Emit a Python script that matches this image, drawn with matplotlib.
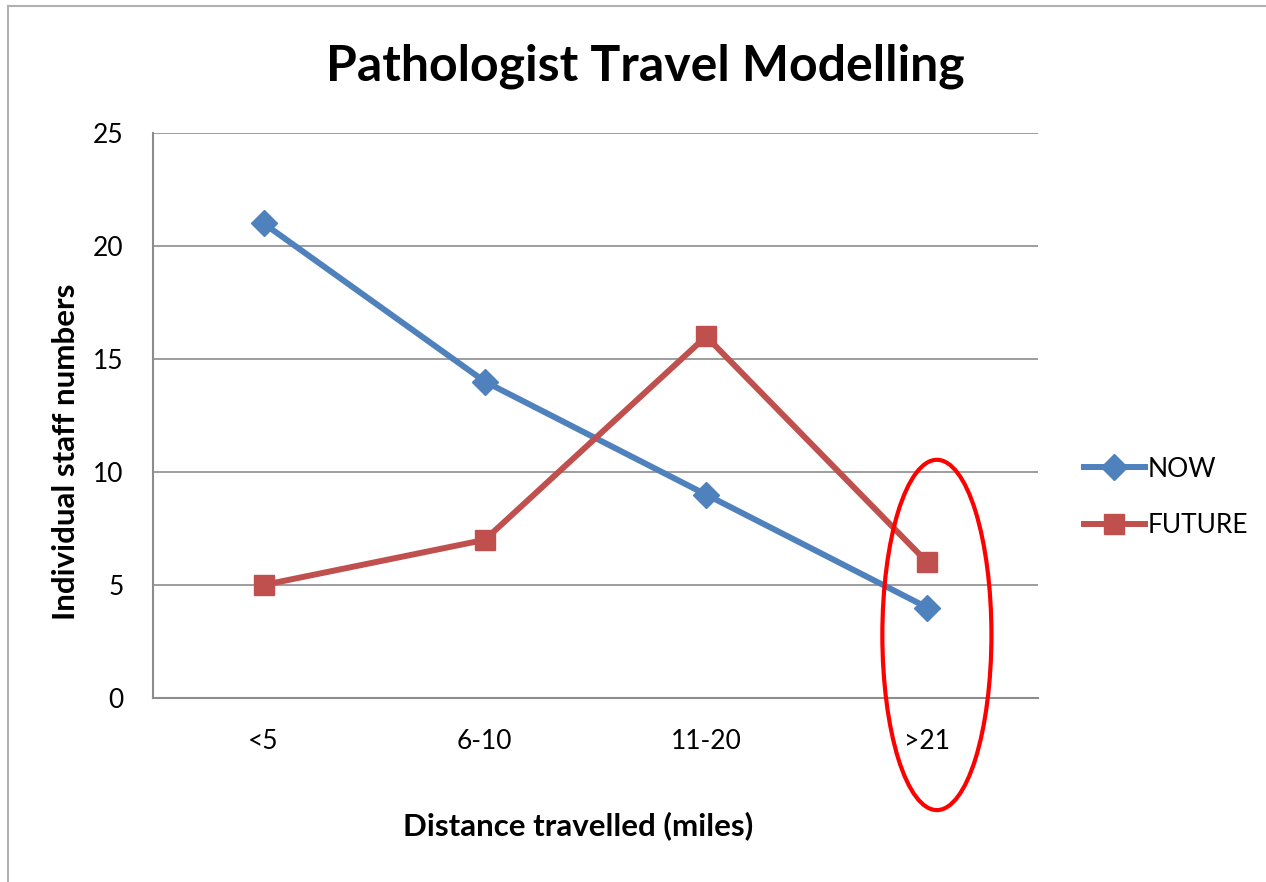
import matplotlib.pyplot as plt
from matplotlib.patches import Ellipse, Rectangle

categories = ['<5', '6-10', '11-20', '>21']
now = [21, 14, 9, 4]
future = [5, 7, 16, 6]

plt.rcParams['font.family'] = ['Lato', 'DejaVu Sans']

fig = plt.figure(figsize=(12.66, 8.82), dpi=100)
W, H = 1266, 882
ax = fig.add_axes([153 / W, 1 - 698 / H, (1038 - 153) / W, (698 - 133) / H])

# outer chart border (only top and left visible in the reference)
fig.patches.append(Rectangle((8 / W, -0.1), 1.2, 1 - 6 / H + 0.1, transform=fig.transFigure,
                             fill=False, edgecolor='#b0b0b0', linewidth=1.5))

x = range(len(categories))
ax.plot(x, now, color='#4F81BD', linewidth=4.3, marker='D', markersize=13,
        label='NOW', zorder=3)
ax.plot(x, future, color='#C0504D', linewidth=4.3, marker='s', markersize=14,
        label='FUTURE', zorder=3)

ax.set_xlim(-0.5, 3.5)
ax.set_ylim(0, 25)
ax.set_yticks(range(0, 26, 5))
ax.set_xticks(list(x))
ax.set_xticklabels(categories)
ax.tick_params(length=0, labelsize=19, colors='black')
ax.tick_params(axis='y', pad=21)
ax.tick_params(axis='x', pad=22)
ax.grid(axis='y', color='#8c8c8c', linewidth=1.2)
ax.set_axisbelow(True)
for side in ['top', 'right']:
    ax.spines[side].set_visible(False)
for side in ['left', 'bottom']:
    ax.spines[side].set_color('#8c8c8c')
    ax.spines[side].set_linewidth(1.5)

ax.set_ylabel('Individual staff numbers', fontsize=22.5, fontweight='bold')
ax.set_xlabel('Distance travelled (miles)', fontsize=22.5, fontweight='bold')
ax.yaxis.set_label_coords((66 - 153) / 885, (698 - 452) / 565)
ax.xaxis.set_label_coords((578 - 153) / 885, -(826 - 698) / 565)
ax.xaxis.label.set_va('center')
ax.yaxis.label.set_va('center')
fig.text(645 / W, 1 - 66 / H, 'Pathologist Travel Modelling', fontsize=36,
         fontweight='bold', ha='center', va='center')

ax.legend(loc='center left', bbox_to_anchor=(1.04, 0.355), frameon=False,
          fontsize=19, handlelength=2.3, handletextpad=0.1, labelspacing=1.2,
          borderaxespad=0)

ax.add_patch(Ellipse((3.043, 2.79), 0.493, 15.5, fill=False, edgecolor='red',
                     linewidth=3, clip_on=False, zorder=4))

fig.savefig('out.png', dpi=100)
